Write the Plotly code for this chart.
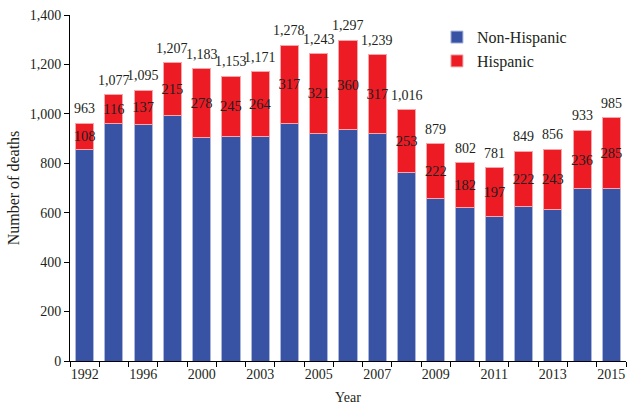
import plotly.graph_objects as go

years = ["1992", "1994", "1996", "1998", "2000", "2002", "2003", "2004", "2005", "2006",
         "2007", "2008", "2009", "2010", "2011", "2012", "2013", "2014", "2015"]
totals = [963, 1077, 1095, 1207, 1183, 1153, 1171, 1278, 1243, 1297,
          1239, 1016, 879, 802, 781, 849, 856, 933, 985]
hispanic = [108, 116, 137, 215, 278, 245, 264, 317, 321, 360,
            317, 253, 222, 182, 197, 222, 243, 236, 285]
non_hispanic = [t - h for t, h in zip(totals, hispanic)]
tick_labels = ["1992", "1996", "2000", "2003", "2005", "2007", "2009", "2011", "2013", "2015"]

idx = list(range(len(years)))
font = "Liberation Serif, Times New Roman, serif"
txtcol = "#231f20"

fig = go.Figure()
fig.add_trace(go.Bar(x=idx, y=non_hispanic, name="Non-Hispanic", legendgroup="a",
                     marker=dict(color="#3953a4", line=dict(color="#aab6dc", width=1)),
                     width=0.62))
fig.add_trace(go.Bar(x=idx, y=hispanic, name="Hispanic", legendgroup="b",
                     marker=dict(color="#ed1c24", line=dict(color="#f7a7a9", width=1)),
                     width=0.62, text=[str(v) for v in hispanic],
                     textposition="inside", insidetextanchor="middle", textangle=0,
                     textfont=dict(family=font, size=14.5, color=txtcol),
                     constraintext="none", cliponaxis=False))

for i, t in zip(idx, totals):
    fig.add_annotation(x=i, y=t, text=f"{t:,}", showarrow=False,
                       yanchor="bottom", yshift=5,
                       font=dict(family=font, size=14, color=txtcol))

fig.update_layout(
    width=633, height=405, barmode="stack",
    margin=dict(l=70, r=7, t=15, b=44),
    plot_bgcolor="white", paper_bgcolor="white",
    font=dict(family=font, size=14, color=txtcol),
    legend=dict(x=0.66, y=0.985, xanchor="left", yanchor="top",
                font=dict(family=font, size=16, color=txtcol),
                traceorder="grouped", itemwidth=30, bgcolor="rgba(0,0,0,0)",
                tracegroupgap=0),
    showlegend=True,
)
fig.update_xaxes(
    range=[-0.5, 18.5], tickmode="array",
    tickvals=[i for i in idx if years[i] in tick_labels],
    ticktext=[years[i] for i in idx if years[i] in tick_labels],
    ticks="", showline=True, linecolor="black", linewidth=1,
    showgrid=False, zeroline=False, automargin=False,
    minor=dict(ticks="outside", ticklen=5, tickcolor="black", tick0=-0.5, dtick=1, showgrid=False),
    title=dict(text="Year", font=dict(family=font, size=14, color=txtcol), standoff=11),
    tickfont=dict(family=font, size=14, color=txtcol),
)
fig.update_yaxes(
    range=[0, 1400], tickvals=[0, 200, 400, 600, 800, 1000, 1200, 1400],
    tickformat=",", ticks="outside", ticklen=5, tickcolor="black",
    showline=True, linecolor="black", linewidth=1,
    showgrid=False, zeroline=False, automargin=False,
    title=dict(text="Number of deaths", font=dict(family=font, size=16, color=txtcol), standoff=6),
    tickfont=dict(family=font, size=14, color=txtcol),
)

fig.write_html("out.html", config={"displayModeBar": False},
               post_script="document.body.style.margin='0';")
